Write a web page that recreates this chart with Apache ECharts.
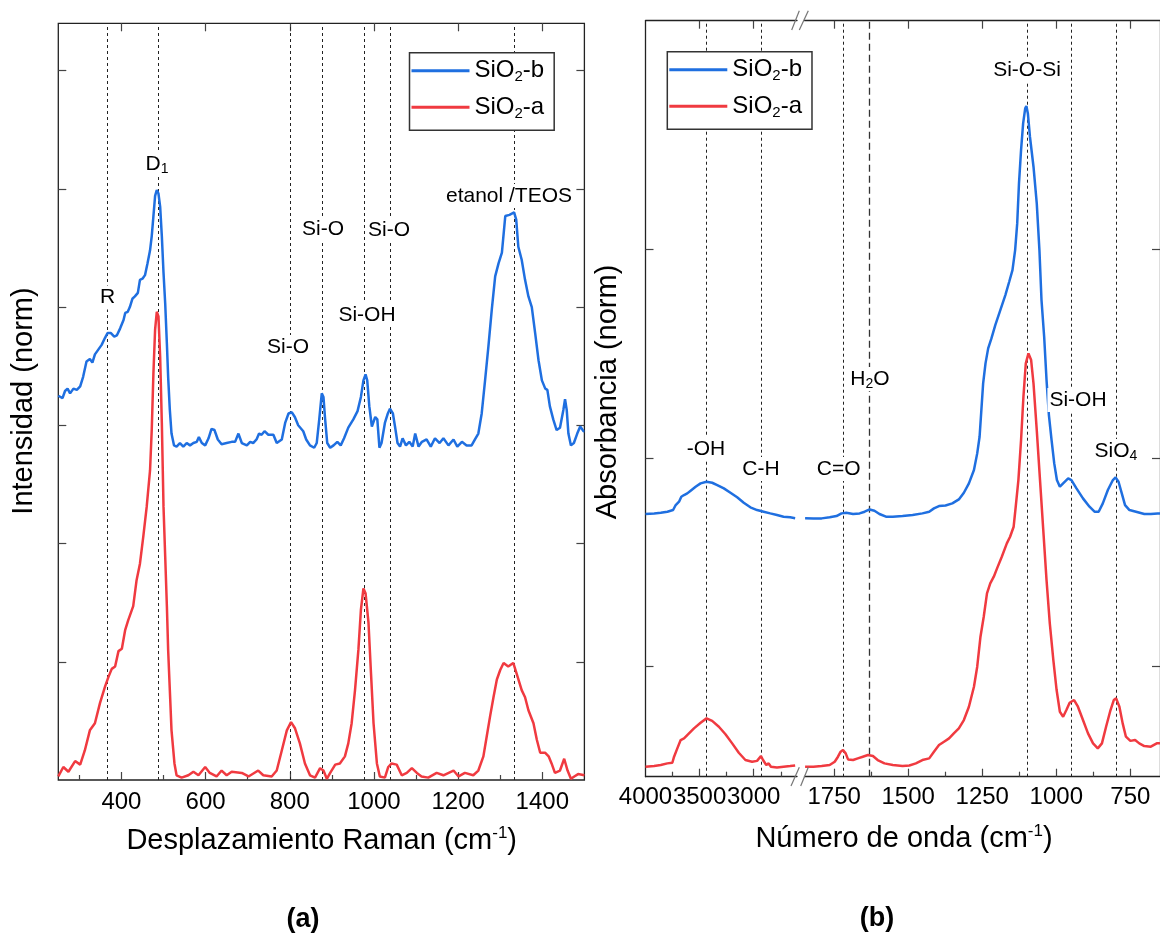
<!DOCTYPE html>
<html>
<head>
<meta charset="utf-8">
<script src="https://cdn.jsdelivr.net/npm/echarts@6/dist/echarts.min.js"></script>
<style>html,body{margin:0;padding:0;background:#fff}#c{width:1160px;height:934px}</style>
</head>
<body>
<div id="c"></div>
<script>
// ---------- (a) Raman ----------
const ramanShiftB = [250,252,260,266,272,278,286,294,302,309,317,325,331,337,345,353,361,367,375,383,389,397,405,409,415,420,426,432,439,444,450,456,462,468,472,476,480,484,488,492,496,500,504,508,511,515,519,525,531,539,547,555,563,571,579,584,591,599,607,614,621,629,638,650,662,670,678,686,698,706,713,721,727,733,740,749,761,769,781,789,797,805,812,820,
832,839,848,858,864,870,876,880,884,889,896,904,913,921,929,939,951,961,969,975,980,984,989,995,999,1003,1008,1013,1018,1026,1033,1038,1045,1050,1056,1062,1068,1076,1084,1092,1098,1106,1114,1125,1135,1145,1156,1165,1177,1189,1198,1209,1220,1232,1240,1248,1256,1264,1272,1280,1288,1296,1304,1312,1322,1333,1338,1343,1351,1359,1367,1375,1383,1391,1399,1407,1412,1418,1426,1434,1442,1450,1454,1458,1462,1468,1475,1483,1490,1498,1500];
const ramanIntB = [3.25,3.26,3.23,3.29,3.31,3.27,3.31,3.30,3.33,3.41,3.54,3.56,3.53,3.60,3.64,3.68,3.74,3.78,3.78,3.75,3.76,3.82,3.89,3.95,3.96,4.00,4.07,4.09,4.12,4.23,4.24,4.27,4.37,4.48,4.60,4.77,4.94,4.99,4.96,4.85,4.60,4.29,4.03,3.69,3.41,3.13,2.93,2.83,2.82,2.85,2.82,2.85,2.83,2.85,2.86,2.90,2.85,2.83,2.89,2.97,2.96,2.88,2.84,2.85,2.86,2.86,2.93,2.85,2.83,2.86,2.85,2.88,2.93,2.92,2.95,2.92,2.92,2.85,2.88,3.02,3.10,3.11,3.07,3.00,
2.95,2.88,2.83,2.81,2.85,3.05,3.27,3.24,3.05,2.85,2.81,2.83,2.86,2.83,2.89,2.98,3.05,3.12,3.24,3.38,3.43,3.38,3.16,2.99,2.98,3.07,3.05,2.81,2.85,3.02,3.10,3.14,3.10,2.99,2.85,2.82,2.89,2.83,2.86,2.82,2.93,2.82,2.86,2.88,2.82,2.89,2.85,2.89,2.83,2.88,2.82,2.86,2.83,2.83,2.88,2.93,3.10,3.38,3.67,3.98,4.26,4.37,4.46,4.77,4.78,4.80,4.74,4.51,4.40,4.23,4.09,4.00,3.78,3.55,3.38,3.31,3.30,3.16,3.05,2.96,2.98,3.13,3.22,3.13,2.93,2.83,2.85,2.93,2.99,2.95,2.95];
const ramanShiftA = [250,262,274,290,302,313,325,337,349,361,369,377,385,393,401,409,416,428,436,444,452,460,468,472,476,480,484,488,492,496,500,504,508,511,515,519,526,531,543,559,571,583,599,610,626,638,650,662,686,702,725,737,757,769,781,793,803,812,824,836,848,860,872,880,888,896,908,919,931,939,947,955,963,969,975,980,987,993,999,1007,1014,1026,1034,1042,1054,1066,1078,1090,1102,1113,1129,1149,1165,1189,1201,1216,1236,1248,1260,1268,1276,1284,1292,1300,1308,1319,1331,1339,1351,1359,1367,1379,1387,1395,1407,1415,1422,1430,1442,1452,1460,1468,1476,1485,1500];
const ramanIntA = [0.03,0.11,0.07,0.16,0.13,0.25,0.42,0.48,0.65,0.79,0.87,0.94,0.96,1.09,1.11,1.27,1.35,1.47,1.69,1.83,2.06,2.31,2.62,2.96,3.44,3.81,3.96,3.92,3.58,3.02,2.31,1.89,1.47,1.10,0.76,0.42,0.14,0.04,0.02,0.04,0.07,0.04,0.11,0.06,0.03,0.08,0.04,0.07,0.06,0.03,0.08,0.04,0.03,0.08,0.25,0.42,0.49,0.44,0.31,0.14,0.04,0.02,0.10,0.08,0.01,0.06,0.13,0.14,0.20,0.31,0.48,0.76,1.10,1.44,1.62,1.58,1.33,0.90,0.48,0.14,0.03,0.02,0.11,0.14,0.13,0.04,0.06,0.10,0.06,0.03,0.02,0.06,0.04,0.08,0.03,0.06,0.04,0.08,0.20,0.37,0.54,0.70,0.85,0.93,0.99,0.96,0.99,0.90,0.76,0.70,0.59,0.48,0.34,0.23,0.23,0.20,0.14,0.06,0.08,0.18,0.08,0.01,0.03,0.05,0.04];
const ramanMajorTicks = [400,600,800,1000,1200,1400];
const ramanMinorTicks = [300,500,700,900,1100,1300];
const ramanYTicks = [1,2,3,4,5,6];
const ramanBandLines = [367,488,802,878,976,1038,1333];

// ---------- (b) FTIR ----------
const ftirHighWaveB = [4000,3920,3859,3798,3745,3721,3690,3669,3644,3614,3583,3537,3491,3436,3384,3337,3276,3215,3153,3092,3031,2969,2908,2847,2785,2724,2663,2617];
const ftirHighAbsB = [0.730,0.733,0.736,0.741,0.749,0.773,0.789,0.813,0.821,0.829,0.842,0.861,0.877,0.885,0.880,0.869,0.853,0.832,0.810,0.784,0.762,0.749,0.741,0.733,0.725,0.717,0.714,0.710];
const ftirLowWaveB = [1848,1820,1792,1765,1742,1725,1709,1686,1664,1647,1630,1614,1597,1575,1552,1519,1485,1452,1429,1413,1396,1374,1351,1329,1312,1295,1278,1267,1259,1253,1247,1239,1230,1219,1206,1189,1172,1159,1148,1139,1132,1126,1119,1112,1105,1101,1096,1089,1077,1066,1057,1050,1041,1033,1025,1016,1007,998,988,977,960,949,932,910,888,871,857,843,826,809,800,790,779,768,753,731,703,681,658,650];
const ftirLowAbsB = [0.710,0.709,0.709,0.714,0.720,0.733,0.736,0.730,0.733,0.741,0.752,0.746,0.730,0.717,0.717,0.720,0.725,0.733,0.741,0.757,0.768,0.771,0.781,0.800,0.832,0.877,0.941,1.021,1.101,1.229,1.357,1.453,1.525,1.573,1.637,1.709,1.781,1.845,1.901,1.997,2.125,2.317,2.477,2.605,2.677,2.688,2.653,2.541,2.397,2.221,1.997,1.757,1.581,1.373,1.205,1.085,0.973,0.893,0.861,0.877,0.901,0.893,0.853,0.805,0.765,0.741,0.741,0.781,0.845,0.893,0.906,0.885,0.829,0.773,0.749,0.741,0.730,0.730,0.733,0.733];
const ftirHighWaveA = [4000,3920,3859,3798,3752,3736,3706,3675,3644,3614,3552,3491,3436,3384,3322,3261,3199,3138,3077,3015,2969,2933,2914,2884,2862,2841,2785,2724,2663,2617];
const ftirHighAbsA = [-0.483,-0.480,-0.475,-0.467,-0.464,-0.435,-0.395,-0.355,-0.347,-0.331,-0.299,-0.272,-0.251,-0.263,-0.291,-0.327,-0.371,-0.416,-0.451,-0.459,-0.455,-0.432,-0.451,-0.475,-0.467,-0.483,-0.487,-0.483,-0.480,-0.477];
const ftirLowWaveA = [1848,1820,1792,1765,1748,1737,1728,1720,1711,1703,1686,1670,1653,1636,1619,1603,1580,1552,1519,1496,1474,1452,1429,1413,1396,1379,1362,1346,1329,1312,1295,1278,1267,1256,1245,1234,1223,1211,1200,1184,1167,1156,1144,1137,1128,1119,1111,1103,1094,1085,1077,1066,1055,1044,1033,1022,1010,999,988,977,966,955,940,927,910,893,876,860,846,832,817,806,798,787,776,765,750,734,720,703,681,661,650];
const ftirLowAbsA = [-0.483,-0.483,-0.480,-0.475,-0.459,-0.435,-0.411,-0.403,-0.419,-0.448,-0.451,-0.443,-0.435,-0.427,-0.432,-0.451,-0.467,-0.475,-0.480,-0.477,-0.467,-0.451,-0.443,-0.411,-0.379,-0.363,-0.347,-0.323,-0.299,-0.259,-0.195,-0.099,-0.003,0.141,0.237,0.349,0.397,0.429,0.469,0.525,0.589,0.621,0.669,0.765,0.893,1.085,1.293,1.453,1.501,1.469,1.357,1.133,0.893,0.653,0.413,0.205,0.029,-0.115,-0.219,-0.243,-0.211,-0.176,-0.163,-0.195,-0.259,-0.323,-0.371,-0.395,-0.371,-0.291,-0.211,-0.163,-0.155,-0.195,-0.275,-0.339,-0.359,-0.355,-0.371,-0.384,-0.387,-0.371,-0.370];
const ftirHighMajor = [4000,3500,3000];
const ftirHighMinor = [3750,3250,2750];
const ftirLowMajor = [1750,1500,1250,1000,750];
const ftirLowMinor = [1625,1375,1125,875];
const ftirYTicks = [0,1,2];
const ftirHighLines = [3436,2926];
const ftirLowLines = [1720,1097,948,798];
const ftirWaterLine = [1630];

const seriesNames = ['SiO2-b','SiO2-a'];

// ---------- styling ----------
const FONT = "'Liberation Sans', Arial, Helvetica, sans-serif";
const BLUE = '#1f6fe0', RED = '#f03a40';
const AXIS = '#222', TICK = '#444';
function zip(a,b){return a.map((v,i)=>[v,b[i]]);}

function xAx(o){
  const base = {type:'value', splitLine:{show:false}, axisLine:{show:false,onZero:false,lineStyle:{color:AXIS,width:1.3}},
    axisLabel:{show:false}, axisTick:{show:false}};
  return Object.assign(base,o);
}
function ticks(vals,len){return {show:true,inside:true,length:len,customValues:vals,lineStyle:{color:TICK,width:1.2}};}
function labels(vals,margin){return {show:true,customValues:vals,fontSize:24,fontFamily:FONT,color:'#000',margin:margin,
  showMinLabel:true,showMaxLabel:true,hideOverlap:false,formatter:v=>String(v)};}

const F_TOP = 20.7, F_H = 756;
const option = {
  animation:false,
  backgroundColor:'#fff',
  grid:[
    {left:58.3, top:23.3, width:526.1, height:756.7, show:true, borderColor:AXIS, borderWidth:1.3, backgroundColor:'transparent'},
    {left:645.5, top:F_TOP, width:151.5, height:F_H},
    {left:804.5, top:F_TOP, width:358.1, height:F_H}
  ],
  xAxis:[
    xAx({gridIndex:0, position:'bottom', min:250, max:1500, axisTick:ticks(ramanMajorTicks,8), axisLabel:labels(ramanMajorTicks,10)}),
    xAx({gridIndex:0, position:'bottom', min:250, max:1500, axisTick:ticks(ramanMinorTicks,5)}),
    xAx({gridIndex:0, position:'top', min:250, max:1500, axisTick:ticks(ramanMajorTicks,8)}),
    xAx({gridIndex:1, position:'bottom', inverse:true, min:2600, max:4000, axisLine:{show:true,onZero:false,lineStyle:{color:AXIS,width:1.3}}, axisTick:ticks([3500,3000],8), axisLabel:labels(ftirHighMajor,9)}),
    xAx({gridIndex:1, position:'bottom', inverse:true, min:2600, max:4000, axisTick:ticks(ftirHighMinor,5)}),
    xAx({gridIndex:1, position:'top', inverse:true, min:2600, max:4000, axisLine:{show:true,onZero:false,lineStyle:{color:AXIS,width:1.3}}, axisTick:ticks([3500,3000],8)}),
    xAx({gridIndex:2, position:'bottom', inverse:true, min:650, max:1850, axisLine:{show:true,onZero:false,lineStyle:{color:AXIS,width:1.3}}, axisTick:ticks(ftirLowMajor,8), axisLabel:labels(ftirLowMajor,9)}),
    xAx({gridIndex:2, position:'bottom', inverse:true, min:650, max:1850, axisTick:ticks(ftirLowMinor,5)}),
    xAx({gridIndex:2, position:'top', inverse:true, min:650, max:1850, axisLine:{show:true,onZero:false,lineStyle:{color:AXIS,width:1.3}}, axisTick:ticks(ftirLowMajor,8)})
  ],
  yAxis:[
    xAx({gridIndex:0, position:'left', min:0, max:6.4, axisTick:ticks(ramanYTicks,8)}),
    xAx({gridIndex:0, position:'right', min:0, max:6.4, axisTick:ticks(ramanYTicks,8)}),
    xAx({gridIndex:1, position:'left', min:-0.531, max:3.098, axisLine:{show:true,onZero:false,lineStyle:{color:AXIS,width:1.3}}, axisTick:ticks(ftirYTicks,8)}),
    xAx({gridIndex:2, position:'left', min:-0.531, max:3.098, show:false}),
    xAx({gridIndex:2, position:'right', min:-0.531, max:3.098, axisLine:{show:true,onZero:false,lineStyle:{color:AXIS,width:1.3}}, axisTick:ticks(ftirYTicks,8)})
  ],
  legend:[0,1].map(i=>({
    orient:'vertical', left:[409.5,667.3][i], top:[52.7,51.7][i],
    data:seriesNames, icon:'rect', itemWidth:58, itemHeight:3, itemGap:8.6,
    padding:[4,10,9,2], backgroundColor:'#fff', borderColor:'#333', borderWidth:1.5, z:20,
    selectedMode:false,
    formatter:n=>n.replace('SiO2','SiO{s|2}'),
    textStyle:{fontSize:24, fontFamily:FONT, color:'#000', lineHeight:28,
      rich:{s:{fontSize:15, fontFamily:FONT, color:'#000', verticalAlign:'bottom', lineHeight:15}}}
  })),
  series:[]
};

function curve(name,color,xi,yi,data,mark){
  const s = {name, type:'line', xAxisIndex:xi, yAxisIndex:yi, data, symbol:'none', showSymbol:false, silent:true,
    lineStyle:{color, width:2.5}, itemStyle:{color}, z:3, clip:true};
  if(mark){
    s.markLine = {silent:true, symbol:'none', z:1, animation:false, label:{show:false},
      lineStyle:{color:'#222', type:[3,3], width:1}, data:mark};
  }
  return s;
}
const vl = arr => arr.map(v=>({xAxis:v}));
option.series.push(
  curve(seriesNames[0], BLUE, 0, 0, zip(ramanShiftB, ramanIntB)),
  curve(seriesNames[1], RED, 0, 0, zip(ramanShiftA, ramanIntA), vl(ramanBandLines)),
  curve(seriesNames[0], BLUE, 3, 2, zip(ftirHighWaveB, ftirHighAbsB)),
  curve(seriesNames[1], RED, 3, 2, zip(ftirHighWaveA, ftirHighAbsA), vl(ftirHighLines)),
  curve(seriesNames[0], BLUE, 6, 3, zip(ftirLowWaveB, ftirLowAbsB)),
  curve(seriesNames[1], RED, 6, 3, zip(ftirLowWaveA, ftirLowAbsA),
    vl(ftirLowLines).concat(ftirWaterLine.map(v=>({xAxis:v, lineStyle:{color:'#333', type:[7,4], width:1.3}}))))
);

// ---------- annotations ----------
const RICH = {
  s:{fontSize:14, fontFamily:FONT, fill:'#000', verticalAlign:'bottom', lineHeight:14},
  p:{fontSize:17, fontFamily:FONT, fill:'#000', verticalAlign:'top', lineHeight:17}
};
function txt(text,x,y,o){
  o = o||{};
  return {type:'text', x, y, z:100, rotation:o.rot||0, silent:true,
    style:{text, align:'center', verticalAlign:'middle', fontSize:o.size||21, lineHeight:o.lh||24,
      fontFamily:FONT, fontWeight:o.bold?'bold':'normal', fill:'#000',
      backgroundColor:o.bg===false?null:'#fff', padding:o.bg===false?0:[0,2], rich:RICH}};
}
const TITLE = {size:29, lh:33, bg:false};
const graphics = [
  // Raman band labels
  txt('R',107.5,297.5),
  txt('D{s|1}',157,164),
  txt('Si-O',288,347),
  txt('Si-O',323,229),
  txt('Si-O',389,230.5),
  txt('Si-OH',367,315),
  txt('etanol /TEOS',509,196),
  // FTIR band labels
  txt('-OH',706,449),
  txt('C-H',761,469),
  txt('C=O',838.7,469),
  txt('H{s|2}O',870,379),
  txt('Si-O-Si',1027,70),
  txt('Si-OH',1078,400),
  txt('SiO{s|4}',1116,451),
  // axis titles
  txt('Desplazamiento Raman (cm{p|-1})',321.7,841,TITLE),
  txt('Número de onda (cm{p|-1})',904,839,TITLE),
  Object.assign(txt('Intensidad (norm)',24,401,TITLE),{rotation:Math.PI/2}),
  Object.assign(txt('Absorbancia (norm)',607.5,392,TITLE),{rotation:Math.PI/2}),
  txt('(a)',303,920,{size:27,lh:30,bold:true,bg:false}),
  txt('(b)',877,919,{size:27,lh:30,bold:true,bg:false})
];
// axis-break marks
[[791,786,799.3,767.3],[800.7,786,808.3,767.3],[791.7,30,799.3,10.7],[799.3,30,808.3,10.7]].forEach(s=>{
  graphics.push({type:'line', z:100, silent:true, shape:{x1:s[0],y1:s[1],x2:s[2],y2:s[3]}, style:{stroke:'#777',lineWidth:1.2}});
});
option.graphic = {elements:graphics};

const chart = echarts.init(document.getElementById('c'), null, {renderer:'canvas'});
chart.setOption(option);
</script>
</body>
</html>
